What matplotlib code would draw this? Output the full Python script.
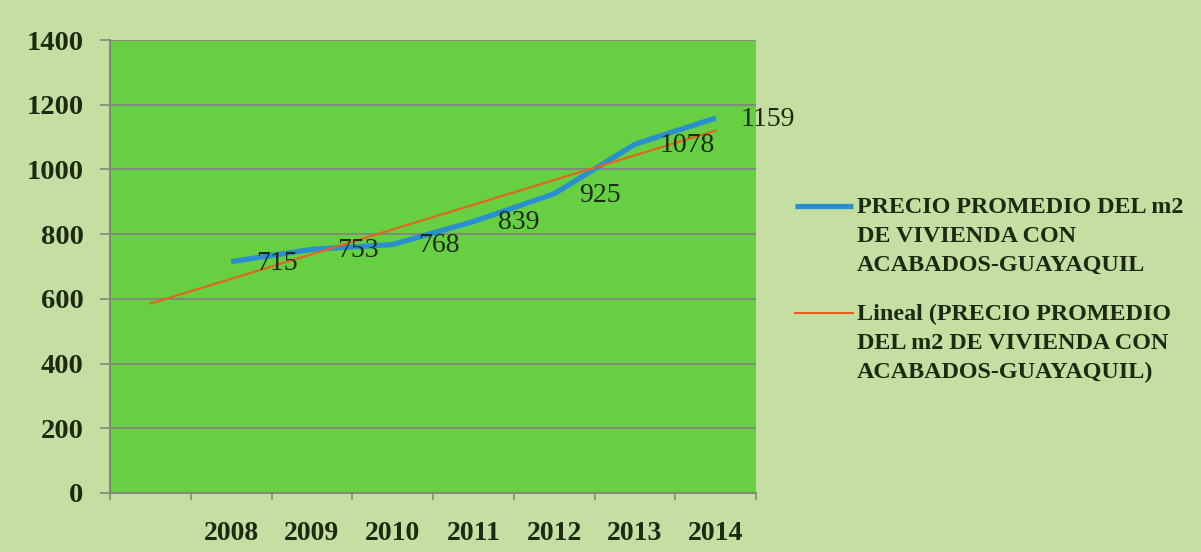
import numpy as np
import matplotlib
matplotlib.use("Agg")
import matplotlib.pyplot as plt

years = ["2008", "2009", "2010", "2011", "2012", "2013", "2014"]
precio = [715, 753, 768, 839, 925, 1078, 1159]
serie_label = "PRECIO PROMEDIO DEL m2\nDE VIVIENDA CON\nACABADOS-GUAYAQUIL"
trend_label = "Lineal (PRECIO PROMEDIO\nDEL m2 DE VIVIENDA CON\nACABADOS-GUAYAQUIL)"

bg = "#c5dfa2"
plot_bg = "#67cf42"
text_c = "#1c2a12"
grid_c = "#7f8a78"

plt.rcParams["font.family"] = ["Liberation Serif", "DejaVu Serif"]

fig = plt.figure(figsize=(12.01, 5.52), dpi=100, facecolor=bg)
ax = fig.add_axes([0.0916, 0.1069, 0.538, 0.8206], facecolor=plot_bg)

# one empty category before 2008 (trend forecast backward one period)
x = np.arange(1, len(years) + 1)
coef = np.polyfit(x, precio, 1)
xt = np.array([0, len(years)])
ax.plot(x, precio, color="#2a8fcf", lw=3.8, solid_capstyle="butt", zorder=3, label=serie_label)
ax.plot(xt, np.polyval(coef, xt), color="#e8621e", lw=1.5, zorder=4, label=trend_label)

for xi, v in zip(x, precio):
    ax.annotate(str(v), (xi, v), xytext=(18, -1), textcoords="offset points",
                ha="left", va="center", fontsize=20, color=text_c, zorder=5,
                annotation_clip=False)

ax.set_xlim(-0.5, len(years) + 0.5)
ax.set_ylim(0, 1400)
ax.set_yticks(range(0, 1401, 200))
ax.yaxis.grid(True, color=grid_c, lw=1.5)
ax.set_axisbelow(True)

ax.set_xticks(np.arange(-0.5, len(years) + 1, 1))
ax.set_xticklabels([])
ax.set_xticks(np.arange(0, len(years) + 1), [""] + years, minor=True)
ax.tick_params(axis="x", which="major", length=5, color=grid_c, width=1.2)
ax.tick_params(axis="x", which="minor", length=0, pad=20, labelsize=20, labelcolor=text_c)
ax.tick_params(axis="y", length=7, color=grid_c, width=1.2, pad=12, labelsize=20.5, labelcolor=text_c)
for lab in ax.get_xticklabels(minor=True) + ax.get_yticklabels():
    lab.set_fontweight("bold")

for s in ["top", "right"]:
    ax.spines[s].set_visible(False)
for s in ["left", "bottom"]:
    ax.spines[s].set_color(grid_c)
    ax.spines[s].set_linewidth(1.5)

leg = fig.legend(loc="center left", bbox_to_anchor=(0.644, 0.474), frameon=False,
                 handlelength=2.4, handletextpad=0.15, labelspacing=1.15,
                 prop={"weight": "bold", "size": 17.4})
for t in leg.get_texts():
    t.set_color(text_c)
    t.set_linespacing(1.5)
# put the legend line next to the first text line, like the original
for col in leg._legend_handle_box.get_children():
    for item in col.get_children():
        item.align = "top"

fig.savefig("out.png", dpi=100, facecolor=bg)
